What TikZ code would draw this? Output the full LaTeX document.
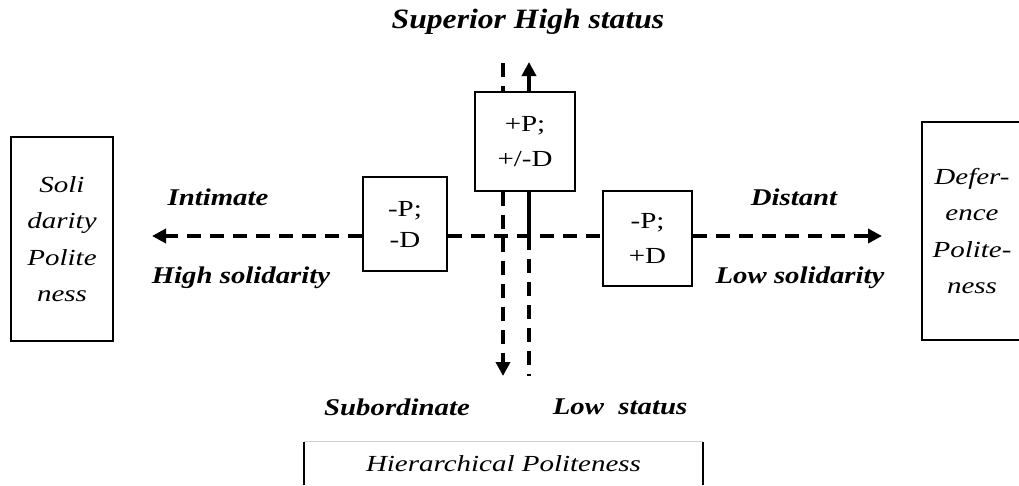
\documentclass[tikz,border=0pt]{standalone}
\usepackage{fontspec}
\setmainfont{Liberation Serif}[FakeStretch=1.26]
\newfontfamily\lblfont{Liberation Serif}[FakeStretch=1.2]
\newfontfamily\topfont{Liberation Serif}[FakeStretch=1.13]
\usetikzlibrary{arrows.meta}
\begin{document}
\begin{tikzpicture}[x=1pt,y=-1pt,
  box/.style={draw,line width=1.6pt,fill=white,inner sep=0pt,align=center,
    font=\fontsize{23}{35}\selectfont},
  sidebox/.style={box,font=\fontsize{23}{36.5}\selectfont\itshape},
  lbl/.style={font=\lblfont\fontsize{24}{27}\selectfont\bfseries\itshape,inner sep=0pt},
  dsh/.style={line width=3.6pt,dash pattern=on 14pt off 9pt},
  sld/.style={line width=3.6pt},
  tip/.style={-{Triangle[length=14pt,width=14pt]}}]
\useasboundingbox (0,0) rectangle (1019,485);
% boxes
\node[box,minimum width=100pt,minimum height=99pt] (T) at (525,141.5) {+P;\\+/-D};
\node[box,minimum width=84pt,minimum height=94pt,font=\fontsize{23}{31}\selectfont] (A) at (405,224) {-P;\\-D};
\node[box,minimum width=89pt,minimum height=95pt] (B) at (647.5,238.5) {-P;\\+D};
\node[sidebox,minimum width=102pt,minimum height=204pt] (L) at (62,239) {Soli\\darity\\Polite\\ness};
\node[sidebox,minimum width=100pt,minimum height=218pt] (R) at (972,231) {Defer-\\ence\\Polite-\\ness\hspace*{0pt}};
% coordinates
\coordinate (h) at (0,236);
\coordinate (ltip) at (152,236);
\coordinate (rtip) at (882,236);
\coordinate (upTip) at (529,62);
\coordinate (corner) at (529,236);
\coordinate (lowEnd) at (529,376);
\coordinate (dTop) at (503,63);
\coordinate (downTip) at (503,376);
% connectors
\draw[dsh,tip] (A.west|-h) -- (ltip);
\draw[dsh,tip] (B.east|-h) -- (rtip);
\draw[dsh] (A.east|-h) -- (B.west|-h);
\draw[sld,tip] (T.north-|upTip) -- (upTip);
\draw[sld] (T.south-|upTip) -- (corner);
\draw[dsh] (corner) -- (lowEnd);
\draw[dsh] (dTop) -- (dTop|-T.north);
\draw[dsh,tip] (downTip|-T.south) -- (downTip);
% labels
\node[lbl,font=\topfont\fontsize{28}{31}\selectfont\bfseries\itshape] (sup) at (528,22) {Superior High status};
\node[lbl] (int) at (218,197) {Intimate};
\node[lbl] (hsol) at (241,278) {High solidarity};
\node[lbl] (dist) at (794,197) {Distant};
\node[lbl] (lsol) at (800,278) {Low solidarity};
\node[lbl] (sub) at (397,407) {Subordinate};
\node[lbl] (low) at (620,407) {Low\ \ status};
% bottom box
\node[inner sep=0pt,minimum width=399pt,minimum height=43pt,font=\fontsize{23}{26}\selectfont\itshape] (H) at (503.5,463.5) {Hierarchical Politeness};
\draw[line width=1.6pt] (H.south west) -- (H.north west);
\draw[gray!35,line width=1.2pt] (H.north west) -- (H.north east);
\draw[line width=1.6pt] (H.north east) -- (H.south east);
\end{tikzpicture}
\end{document}
